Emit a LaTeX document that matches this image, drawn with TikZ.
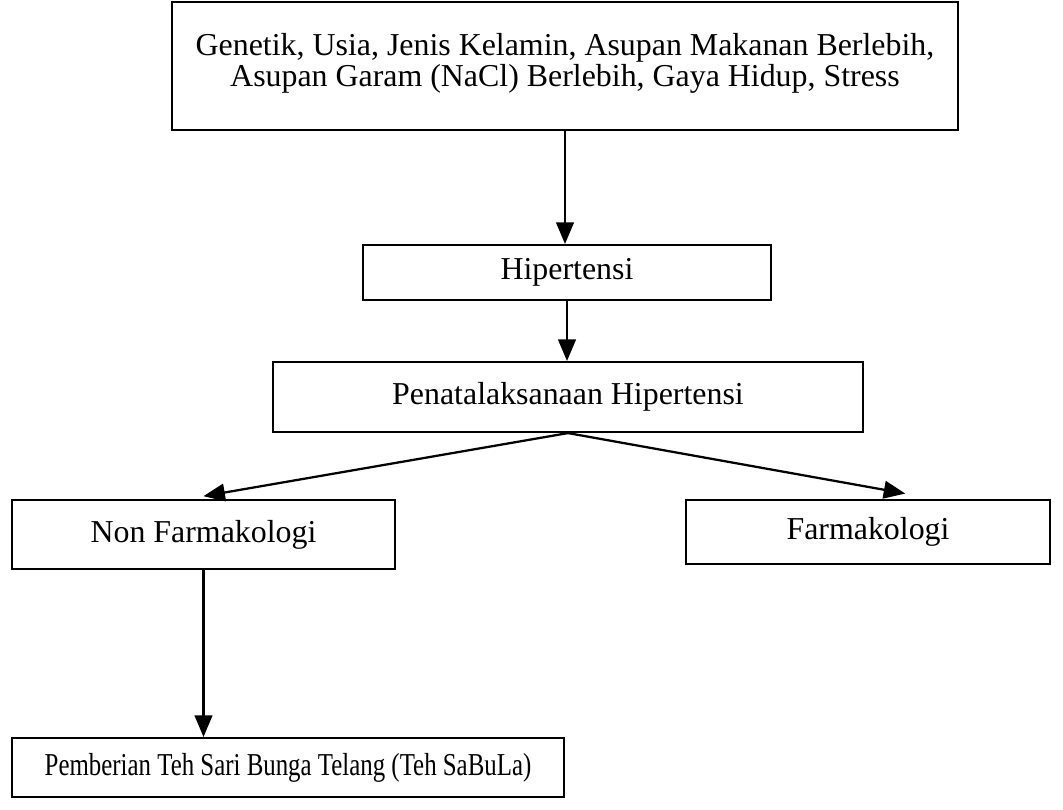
\documentclass[tikz,border=0pt]{standalone}
\usepackage{fontspec}
\setmainfont{Liberation Serif}
\usepackage{tikz}
\usetikzlibrary{arrows}

\begin{document}
\begin{tikzpicture}[x=0.3763pt,y=-0.3763pt,line width=0.85pt,
  font=\fontsize{12}{11.5}\selectfont,
  box/.style={rectangle,draw,align=center,inner sep=0pt}]
\useasboundingbox (0,0) rectangle (1063,809);
\node (factors)  at (565,66)    [box,minimum width=295.8pt,minimum height=48.2pt,
  label={[name=factorstext,anchor=north,align=center,yshift=-8.5pt]north:Genetik, Usia, Jenis Kelamin, Asupan Makanan Berlebih,\\Asupan Garam (NaCl) Berlebih, Gaya Hidup, Stress}] {};
\node (hyper)    at (567,272.5) [box,minimum width=153.5pt,minimum height=20.7pt] {Hipertensi};
\node (manage)   at (568,397)   [box,minimum width=222pt,minimum height=26.3pt] {Penatalaksanaan Hipertensi};
\node (nonpharm) at (203.5,534.5) [box,minimum width=144.1pt,minimum height=26pt] {Non Farmakologi};
\node (pharm)    at (868,532)   [box,minimum width=137pt,minimum height=24.1pt] {Farmakologi};
\node (telang)   at (288,767.5) [box,minimum width=207.7pt,minimum height=22.2pt] {\scalebox{0.78}[1]{Pemberian Teh Sari Bunga Telang (Teh SaBuLa)}};
\draw [-triangle 45] (factors.south) -- (factors.south |- hyper.north);
\draw [-triangle 45] (hyper.south) -- (hyper.south |- manage.north);
\draw [-triangle 45] (manage.south) -- ([yshift=1pt]nonpharm.north);
\draw [-triangle 45] (manage.south) -- ([xshift=14pt,yshift=2pt]pharm.north);
\draw [-triangle 45] (nonpharm.south) -- (nonpharm.south |- telang.north);
\end{tikzpicture}
\end{document}
